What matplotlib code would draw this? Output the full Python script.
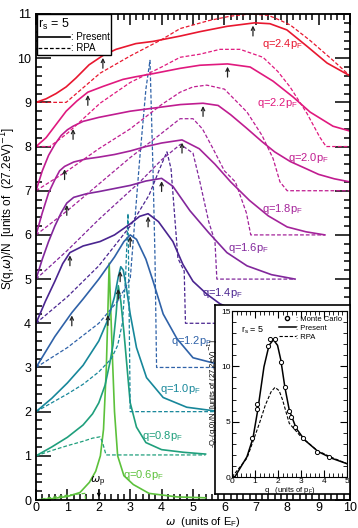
import numpy as np
import matplotlib.pyplot as plt
from matplotlib.lines import Line2D
from matplotlib.ticker import MultipleLocator

plt.rcParams['font.family'] = ['Liberation Sans', 'DejaVu Sans']

## data: S(q,w)/N, each curve shifted up by its offset ##
q_vals = [0.6, 0.8, 1.0, 1.2, 1.4, 1.6, 1.8, 2.0, 2.2, 2.4]
offsets = [0, 1, 2, 3, 4, 5, 6, 7, 8, 9]
colors = ['#5cc13b', '#1f9f7c', '#17879a', '#2f62a8', '#4a2590',
          '#82279c', '#a4239a', '#c01c90', '#e0197e', '#e8172f']

# Present
w_pres = [
    [0, 0.5, 1.0, 1.4, 1.7, 1.9, 2.05, 2.15, 2.24, 2.29, 2.33, 2.37, 2.43, 2.5, 2.6, 2.8, 3.1, 3.6, 4.5, 5.4],
    [0, 0.5, 1.0, 1.5, 1.8, 2.0, 2.2, 2.35, 2.45, 2.55, 2.62, 2.7, 2.8, 2.9, 3.0, 3.2, 3.5, 4.0, 4.7, 5.4],
    [0, 0.5, 1.0, 1.5, 2.0, 2.3, 2.5, 2.62, 2.7, 2.78, 2.88, 3.0, 3.2, 3.52, 4.05, 4.8, 5.76, 7.0],
    [0, 0.3, 0.6, 0.9, 1.14, 1.5, 2.0, 2.5, 2.8, 3.0, 3.2, 3.5, 3.73, 4.05, 4.49, 5.0, 5.76, 7.0],
    [0, 0.3, 0.6, 0.85, 1.08, 1.5, 2.04, 2.5, 3.0, 3.3, 3.57, 3.9, 4.36, 4.68, 5.0, 5.44, 5.86, 7.0],
    [0, 0.2, 0.4, 0.6, 0.8, 0.98, 1.2, 1.6, 2.0, 2.5, 3.0, 3.5, 4.0, 4.36, 4.9, 5.5, 6.08, 6.72, 7.5, 8.25],
    [0, 0.2, 0.4, 0.6, 0.75, 0.91, 1.2, 1.6, 2.0, 2.5, 3.0, 3.5, 4.0, 4.65, 5.2, 5.7, 6.2, 6.8, 7.4, 8.0, 8.6, 9.2],
    [0, 0.2, 0.4, 0.6, 0.8, 1.0, 1.18, 1.5, 2.0, 2.5, 3.0, 3.85, 4.6, 5.32, 5.8, 6.2, 6.7, 7.2, 7.6, 8.1, 8.6, 9.0, 9.5, 10],
    [0, 0.32, 0.64, 0.96, 1.3, 1.65, 2.13, 2.77, 3.18, 3.73, 4.59, 5.22, 6.1, 6.82, 7.55, 8.19, 8.73, 9.46, 10],
    [0, 0.32, 0.64, 0.96, 1.27, 1.69, 2.13, 2.55, 3.18, 3.73, 4.59, 5.22, 6.08, 6.97, 7.45, 7.99, 8.63, 9.27, 10],
]
s_pres = [
    [0, 0.03, 0.08, 0.17, 0.4, 0.65, 1.0, 1.6, 3.0, 4.3, 5.36, 4.5, 3.3, 2.0, 1.0, 0.55, 0.35, 0.15, 0.07, 0.05],
    [0, 0.2, 0.42, 0.7, 0.95, 1.2, 1.6, 2.1, 2.5, 3.2, 3.85, 3.5, 2.8, 2.0, 1.2, 0.65, 0.3, 0.14, 0.08, 0.04],
    [0, 0.3, 0.65, 1.05, 1.6, 2.1, 2.6, 3.05, 3.28, 3.2, 2.8, 2.21, 1.45, 0.77, 0.32, 0.1, 0.01, 0],
    [0, 0.35, 0.7, 1.0, 1.24, 1.55, 2.0, 2.5, 2.85, 3.0, 2.9, 2.45, 1.95, 1.21, 0.65, 0.22, 0.08, 0.02],
    [0, 0.5, 0.95, 1.35, 1.6, 1.75, 1.85, 2.0, 2.25, 2.42, 2.48, 2.3, 1.85, 1.33, 0.95, 0.66, 0.44, 0.1],
    [0, 0.45, 0.85, 1.2, 1.5, 1.72, 1.85, 1.93, 1.98, 2.05, 2.12, 2.22, 2.28, 2.1, 1.55, 1.05, 0.6, 0.3, 0.1, 0],
    [0, 0.5, 0.95, 1.25, 1.45, 1.55, 1.65, 1.72, 1.76, 1.82, 1.9, 2.0, 2.08, 2.15, 1.95, 1.6, 1.2, 0.78, 0.43, 0.18, 0.07, 0],
    [0, 0.45, 0.8, 1.05, 1.25, 1.38, 1.46, 1.57, 1.66, 1.73, 1.8, 1.88, 1.95, 1.98, 1.93, 1.72, 1.42, 1.11, 0.88, 0.66, 0.5, 0.37, 0.27, 0.2],
    [0, 0.2, 0.5, 0.8, 1.03, 1.23, 1.36, 1.52, 1.58, 1.65, 1.77, 1.84, 1.87, 1.8, 1.48, 1.12, 0.78, 0.46, 0.35],
    [0, 0.08, 0.2, 0.35, 0.55, 0.85, 1.06, 1.2, 1.33, 1.38, 1.5, 1.6, 1.72, 1.8, 1.78, 1.64, 1.27, 0.89, 0.6],
]

# RPA
w_rpa = [
    [0, 0.5, 1.0, 1.4, 1.56, 1.58],
    [0, 0.5, 1.0, 1.5, 1.8, 2.04, 2.12, 2.23, 5.4],
    [0, 0.5, 1.0, 1.5, 2.0, 2.4, 2.6, 2.75, 2.85, 2.93, 2.97, 3.0, 7.0],
    [0, 1.0, 2.0, 2.6, 3.0, 3.3, 3.5, 3.63, 3.73, 3.79, 3.84, 7.0],
    [0, 1.0, 2.0, 3.0, 3.6, 4.0, 4.17, 4.3, 4.52, 4.72, 4.76, 7.0],
    [0, 1.0, 2.0, 3.0, 3.31, 4.0, 4.6, 5.0, 5.22, 5.5, 5.7, 5.76, 8.25],
    [0, 1.0, 2.0, 3.0, 4.0, 4.59, 5.0, 5.3, 5.64, 6.0, 6.35, 6.7, 6.84, 9.2],
    [0, 1.0, 2.0, 3.0, 4.0, 4.59, 5.0, 5.44, 6.0, 6.72, 7.2, 7.55, 7.77, 8.0, 10],
    [0, 0.44, 1.0, 2.04, 3.0, 4.0, 4.59, 5.22, 5.86, 6.5, 7.23, 7.7, 8.09, 8.63, 9.04, 9.24, 10],
    [0, 0.96, 2.04, 3.0, 4.0, 4.59, 5.5, 6.18, 6.8, 7.4, 7.77, 8.1, 8.73, 9.46, 10],
]
s_rpa = [
    [0, 0.06, 0.11, 0.14, 0.15, 0],
    [0, 0.12, 0.23, 0.33, 0.4, 0.43, 0.3, 0.02, 0.02],
    [0, 0.2, 0.4, 0.62, 0.9, 1.2, 1.5, 2.0, 3.0, 4.48, 2.0, 0, 0],
    [0, 0.45, 1.0, 1.5, 2.0, 4.7, 6.3, 6.95, 4.36, 2.47, 0, 0],
    [0, 0.6, 1.3, 2.2, 2.9, 3.6, 3.88, 3.5, 1.47, 1.18, 0, 0],
    [0, 0.65, 1.35, 2.0, 2.2, 2.7, 3.05, 2.85, 2.2, 1.3, 0.85, 0, 0],
    [0, 0.55, 1.15, 1.75, 2.3, 2.63, 2.63, 2.4, 1.95, 1.45, 1.2, 0.5, 0, 0],
    [0, 0.45, 0.95, 1.4, 1.95, 2.23, 2.35, 2.39, 2.3, 1.78, 1.25, 0.73, 0.2, 0, 0],
    [0, 0, 0.3, 0.98, 1.45, 1.8, 2.02, 2.09, 2.2, 2.2, 2.02, 1.7, 1.35, 0.75, 0.21, 0, 0],
    [0, 0, 0.66, 1.05, 1.42, 1.67, 1.85, 1.95, 2.0, 1.97, 1.86, 1.75, 1.4, 0.95, 0.6],
]

# arrows (omega, shifted S at arrow head)
arrow_w = [2.29, 2.62, 2.68, 1.14, 3.0, 1.08, 3.57, 0.98, 4.0, 0.91, 4.65, 1.18, 5.32, 1.65, 6.1, 2.13, 6.91]
arrow_s = [4.25, 4.84, 5.24, 4.24, 6.03, 5.6, 6.48, 6.74, 7.28, 7.55, 8.15, 8.46, 8.98, 9.23, 9.87, 10.07, 10.8]

label_w = [2.78, 3.38, 3.95, 4.3, 5.28, 6.1, 7.2, 8.03, 7.04, 7.2]
label_s = [0.56, 1.46, 2.52, 3.6, 4.68, 5.7, 6.58, 7.73, 8.98, 10.33]

# inset: -Q_c(q,0)/N
q_in = [0, 0.13, 0.65, 0.91, 1.12, 1.39, 1.61, 1.8, 1.98, 2.12, 2.3, 2.49, 2.79, 3.16, 3.75, 4.34, 5.0]
qc_pres = [0, 0.03, 1.83, 3.5, 6.05, 9.96, 11.9, 12.4, 11.9, 10.6, 8.1, 6.05, 4.4, 3.34, 2.29, 1.69, 1.2]
q_in_rpa = [0, 0.65, 0.91, 1.2, 1.45, 1.7, 1.87, 2.05, 2.2, 2.49, 3.0, 3.7, 4.3, 5.0]
qc_rpa = [0, 1.7, 3.2, 4.9, 6.5, 7.7, 8.1, 7.8, 6.96, 4.85, 3.64, 2.4, 1.8, 1.2]
q_mc = [0.86, 1.07, 1.1, 1.55, 1.65, 1.85, 2.12, 2.3, 2.48, 2.58, 2.75, 3.1, 3.7, 4.2]
qc_mc = [3.5, 6.1, 6.6, 11.8, 12.5, 12.5, 10.4, 8.1, 6.0, 5.4, 4.5, 3.5, 2.3, 1.8]

fig = plt.figure(figsize=(3.58, 5.28), dpi=100)
ax = fig.add_axes([0.1006, 0.053, 0.877, 0.9205])

for i in range(len(q_vals)):
    off = offsets[i]
    ax.plot(w_pres[i], np.array(s_pres[i]) + off, '-', color=colors[i], lw=1.2)
    ax.plot(w_rpa[i], np.array(s_rpa[i]) + off, '--', color=colors[i], lw=0.9, dashes=(3, 1.6))
    ax.text(label_w[i], label_s[i], 'q=%.1fp$_\\mathregular{F}$' % q_vals[i],
            color=colors[i], fontsize=8, va='center', ha='left')

for xa, ya in zip(arrow_w, arrow_s):
    ax.annotate('', xy=(xa, ya), xytext=(xa, ya - 0.36),
                arrowprops=dict(arrowstyle='->', color='#222222', lw=0.9, mutation_scale=6))

# omega_p marker
ax.annotate('', xy=(2.0, 0.0), xytext=(2.0, 0.28),
            arrowprops=dict(arrowstyle='->', color='black', lw=0.8, mutation_scale=5))
ax.text(1.95, 0.42, r'$\omega_\mathregular{p}$', fontsize=8, ha='center', va='center')

ax.set_xlim(0, 10)
ax.set_ylim(0, 11)
ax.xaxis.set_major_locator(MultipleLocator(1))
ax.xaxis.set_minor_locator(MultipleLocator(0.2))
ax.yaxis.set_major_locator(MultipleLocator(1))
ax.yaxis.set_minor_locator(MultipleLocator(0.2))
ax.tick_params(which='both', direction='in', top=True, right=True, labelsize=9, width=1.1)
ax.tick_params(which='major', length=8)
ax.tick_params(which='minor', length=4)
ax.tick_params(axis='y', which='major', length=11)
ax.tick_params(axis='x', pad=1.5)
for sp in ax.spines.values():
    sp.set_linewidth(1.3)

ax.set_xlabel(r'$\omega$  (units of E$_\mathregular{F}$)', fontsize=8)
ax.set_ylabel(r'S(q,$\omega$)/N  [units of  (27.2eV)$^{-1}$]', fontsize=8.5)
ax.xaxis.set_label_coords(0.53, -0.03)
ax.yaxis.set_label_coords(-0.057, 0.6)

handles = [Line2D([], [], color='black', lw=1.2, ls='-'),
           Line2D([], [], color='black', lw=0.9, ls='--', dashes=(3, 1.6))]
leg = ax.legend(handles, [': Present', ': RPA'], loc='upper left', fontsize=7,
                title=r'r$_\mathregular{s}$ = 5', title_fontsize=9, fancybox=False,
                edgecolor='black', framealpha=1, borderaxespad=0.05, handlelength=3.2,
                handletextpad=0.1, labelspacing=0.1, borderpad=0.2)
leg._legend_box.align = 'left'
leg.get_frame().set_linewidth(1.0)

## inset ##
box = fig.add_axes([215 / 358, 1 - 494 / 528, (350 - 215) / 358, (494 - 305) / 528])
box.set_xticks([])
box.set_yticks([])
for sp in box.spines.values():
    sp.set_linewidth(1.2)
box.set_zorder(5)

ins = fig.add_axes([232 / 358, 1 - 477 / 528, 115 / 358, 166 / 528])
ins.set_zorder(6)
ins.plot(q_in, qc_pres, '-', color='black', lw=1.1)
ins.plot(q_in_rpa, qc_rpa, '--', color='black', lw=0.8, dashes=(3, 1.6))
ins.plot(q_mc, qc_mc, 'o', mfc='white', mec='black', ms=3, mew=0.7)
ins.set_xlim(0, 5)
ins.set_ylim(0, 15)
ins.xaxis.set_major_locator(MultipleLocator(1))
ins.xaxis.set_minor_locator(MultipleLocator(0.2))
ins.yaxis.set_major_locator(MultipleLocator(5))
ins.yaxis.set_minor_locator(MultipleLocator(1))
ins.tick_params(which='both', direction='in', top=True, right=True, labelsize=6, pad=1)
ins.tick_params(which='major', length=5)
ins.tick_params(which='minor', length=3)
ins.set_xlabel(r'q   (units of p$_\mathregular{F}$)', fontsize=5.5, labelpad=-0.5)
ins.set_ylabel(r'-Q$_\mathregular{c}$(q,0)/N  [units of (27.2eV)$^{-1}$]', fontsize=5.5, labelpad=0.5)
ins.text(0.4, 13.3, r'r$_\mathregular{s}$ = 5', fontsize=6.5, va='center')
ins_h = [Line2D([], [], color='black', marker='o', mfc='white', ms=3, ls='none'),
         Line2D([], [], color='black', lw=1.1),
         Line2D([], [], color='black', lw=0.8, ls='--', dashes=(3, 1.6))]
ins.legend(ins_h, [': Monte Carlo', ': Present', ': RPA'], loc='upper right', fontsize=5.5,
           frameon=False, handlelength=2.2, handletextpad=0.1, labelspacing=0.2,
           borderaxespad=0.2)

fig.savefig('out.png', dpi=100)
